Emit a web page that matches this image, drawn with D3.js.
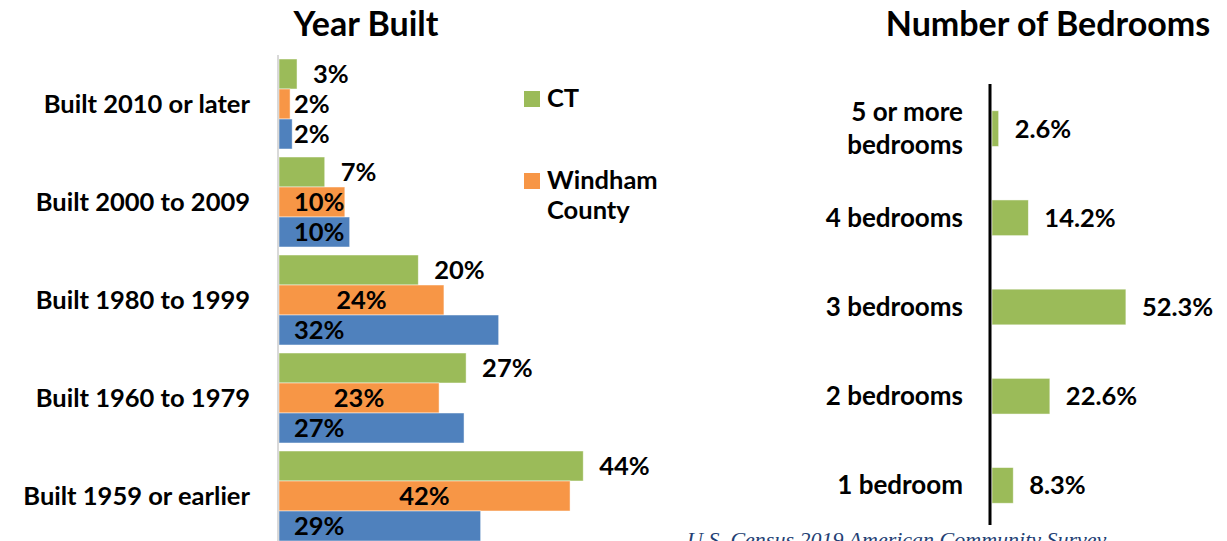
<!DOCTYPE html>
<html>
<head>
<meta charset="utf-8">
<script src="https://cdn.jsdelivr.net/npm/d3@7"></script>
<style>
  body { margin: 0; background: #fff; overflow: hidden; }
  svg { display: block; font-family: Lato, "Open Sans", sans-serif; font-weight: bold; }
</style>
</head>
<body>
<div class="graphic"></div>
<script>
// Year built, share of housing units (%)
var yearCats = ['Built 2010 or later', 'Built 2000 to 2009', 'Built 1980 to 1999', 'Built 1960 to 1979', 'Built 1959 or earlier']
var seriesNames = ['CT', 'Windham County', 'Town']
var ctValues = [2.6, 6.6, 20.1, 27.0, 43.9]
var windhamValues = [1.6, 9.5, 23.8, 23.1, 42.0]
var townValues = [1.9, 10.2, 31.7, 26.7, 29.1]
var legendNames = ['CT', 'Windham County']

// Number of bedrooms (%)
var bedCats = ['5 or more bedrooms', '4 bedrooms', '3 bedrooms', '2 bedrooms', '1 bedroom']
var bedValues = [2.6, 14.2, 52.3, 22.6, 8.3]

var colors = {'CT': '#9bbb59', 'Windham County': '#f79646', 'Town': '#4f81bd'}

var width = 1227
var height = 541
var labelSize = '25.5px'
var titleSize = '34px'

var svg = d3.select('.graphic').append('svg')
    .attr('width', width)
    .attr('height', height)

function drawYearBuilt() {
    var x = d3.scaleLinear().domain([0, 50]).range([279, 625.5])
    var y = d3.scaleBand().domain(yearCats).range([55, 545])
        .paddingInner(8 / 98).paddingOuter(4 / 98)
    var ySub = d3.scaleBand().domain(seriesNames).range([0, y.bandwidth()])

    var rows = yearCats.map(function(c, i) {
        return {cat: c, values: [
            {name: 'CT', v: ctValues[i]},
            {name: 'Windham County', v: windhamValues[i]},
            {name: 'Town', v: townValues[i]}
        ]}
    })

    svg.append('text')
        .attr('x', 366).attr('y', 36)
        .attr('text-anchor', 'middle')
        .style('font-size', titleSize)
        .text('Year Built')

    var g = svg.selectAll('.year').data(rows).enter()
        .append('g')
        .attr('class', 'year')
        .attr('transform', function(d) { return 'translate(0,' + y(d.cat) + ')' })

    g.selectAll('rect').data(function(d) { return d.values }).enter()
        .append('rect')
        .attr('x', x(0))
        .attr('y', function(d) { return ySub(d.name) })
        .attr('width', function(d) { return x(d.v) - x(0) })
        .attr('height', ySub.bandwidth())
        .attr('fill', function(d) { return colors[d.name] })
        .attr('stroke', '#fff')
        .attr('stroke-opacity', 0.6)
        .attr('stroke-width', 0.8)

    g.selectAll('text.val').data(function(d) { return d.values }).enter()
        .append('text')
        .attr('class', 'val')
        .style('font-size', labelSize)
        .attr('y', function(d) { return ySub(d.name) + ySub.bandwidth() / 2 + 9 })
        .text(function(d) { return Math.round(d.v) + '%' })
        .each(function(d) {
            var t = d3.select(this)
            var w = this.getComputedTextLength()
            if (d.name === 'CT') {
                t.attr('x', x(d.v) + 16)
            } else if (d.name === 'Windham County') {
                var cx = (x(0) + x(d.v)) / 2
                if (cx - w / 2 < x(0) + 15) cx = x(0) + 15 + w / 2
                t.attr('x', cx - w / 2)
            } else {
                t.attr('x', x(0) + 15)
            }
        })

    svg.selectAll('.ycat').data(yearCats).enter()
        .append('text')
        .attr('class', 'ycat')
        .attr('x', 250)
        .attr('y', function(d) { return y(d) + y.bandwidth() / 2 + 9 })
        .attr('text-anchor', 'end')
        .style('font-size', labelSize)
        .text(function(d) { return d })

    svg.append('line')
        .attr('x1', 278).attr('x2', 278)
        .attr('y1', 55).attr('y2', height)
        .attr('stroke', '#d9d9d9')
        .attr('stroke-width', 2)

    // legend
    var leg = svg.selectAll('.legend').data(legendNames).enter()
        .append('g')
        .attr('class', 'legend')
        .attr('transform', function(d, i) { return 'translate(524,' + (91 + i * 82) + ')' })
    leg.append('rect')
        .attr('width', 16).attr('height', 16)
        .attr('fill', function(d) { return colors[d] })
    leg.append('text')
        .attr('x', 23).attr('y', 16)
        .style('font-size', labelSize)
        .selectAll('tspan').data(function(d) { return d.split(' ') }).enter()
        .append('tspan')
        .attr('x', 23)
        .attr('dy', function(d, i) { return i ? 30 : 0 })
        .text(function(d) { return d })
}

function drawBedrooms() {
    var x = d3.scaleLinear().domain([0, 60]).range([992, 992 + 153.6])
    var y = d3.scaleBand().domain(bedCats).range([84, 530])
        .paddingInner(0.6).paddingOuter(0.3)

    svg.append('text')
        .attr('x', 1048).attr('y', 36)
        .attr('text-anchor', 'middle')
        .style('font-size', titleSize)
        .text('Number of Bedrooms')

    svg.selectAll('.bed').data(bedCats).enter()
        .append('rect')
        .attr('class', 'bed')
        .attr('x', x(0))
        .attr('y', function(d) { return y(d) })
        .attr('width', function(d, i) { return x(bedValues[i]) - x(0) })
        .attr('height', y.bandwidth())
        .attr('fill', '#9bbb59')
        .attr('stroke', '#fff')
        .attr('stroke-opacity', 0.6)
        .attr('stroke-width', 0.8)

    svg.selectAll('.bedval').data(bedCats).enter()
        .append('text')
        .attr('class', 'bedval')
        .attr('x', function(d, i) { return x(bedValues[i]) + 16 })
        .attr('y', function(d) { return y(d) + y.bandwidth() / 2 + 9 })
        .style('font-size', labelSize)
        .text(function(d, i) { return bedValues[i].toFixed(1) + '%' })

    var labels = svg.selectAll('.bedcat').data(bedCats).enter()
        .append('text')
        .attr('class', 'bedcat')
        .attr('text-anchor', 'end')
        .style('font-size', '26px')
        .attr('y', function(d) { return y(d) + y.bandwidth() / 2 })
    labels.selectAll('tspan')
        .data(function(d) {
            return d === '5 or more bedrooms' ? ['5 or more', 'bedrooms'] : [d]
        })
        .enter()
        .append('tspan')
        .attr('x', 963)
        .attr('dy', function(d, i, nodes) {
            if (nodes.length === 1) return 9
            return i === 0 ? -8 : 33
        })
        .text(function(d) { return d })

    svg.append('line')
        .attr('x1', 990).attr('x2', 990)
        .attr('y1', 84).attr('y2', 525)
        .attr('stroke', '#000')
        .attr('stroke-width', 3)
}

drawYearBuilt()
drawBedrooms()

// source line, cropped at the bottom edge as in the original slide
svg.append('text')
    .attr('x', 687).attr('y', 547)
    .style('font-family', '"Liberation Serif", serif')
    .style('font-style', 'italic')
    .style('font-weight', 'normal')
    .style('font-size', '22px')
    .attr('fill', '#243f74')
    .text('U.S. Census 2019 American Community Survey')
</script>
</body>
</html>
